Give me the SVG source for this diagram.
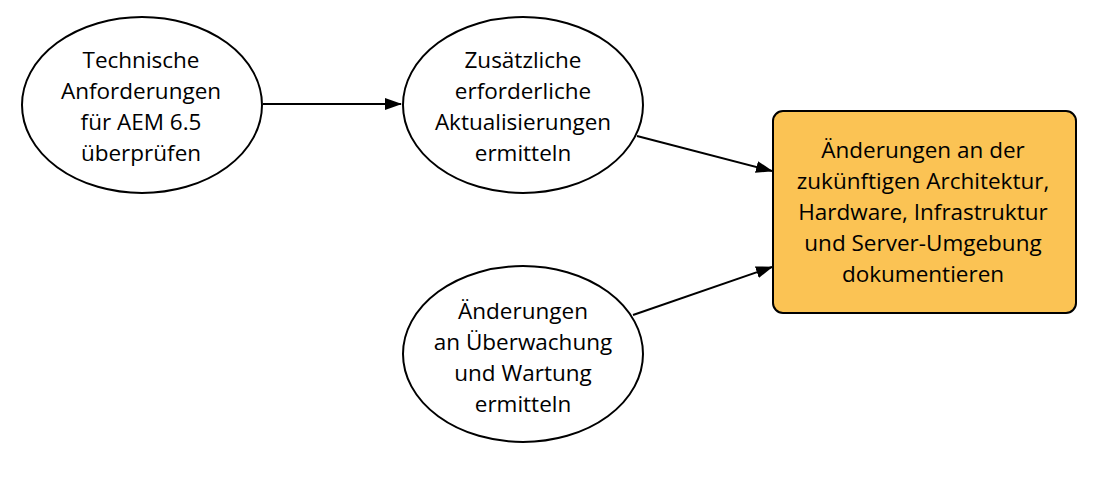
<svg xmlns="http://www.w3.org/2000/svg" width="1111" height="487" viewBox="0 0 1111 487">
<style>
.n{fill:#fff;stroke:#000;stroke-width:2}
.b{fill:#FBC354;stroke:#000;stroke-width:2}
.t{font-family:"Open Sans","Noto Sans",sans-serif;font-size:22.5px;fill:#000;text-anchor:middle}
.c{stroke:#000;stroke-width:2;fill:none;marker-end:url(#a)}
</style>
<defs>
<marker id="a" markerWidth="17" markerHeight="12" refX="16" refY="6" orient="auto" markerUnits="userSpaceOnUse">
<path d="M0,0 L17,6 L0,12 Z" fill="#000"/>
</marker>
</defs>
<rect width="1111" height="487" fill="#fff"/>
<g id="connectors">
<path class="c" d="M263,104 L401,104"/>
<path class="c" d="M637,136 L772,171"/>
<path class="c" d="M633,315 L772,267"/>
</g>
<g id="n1">
<ellipse class="n" cx="142" cy="105" rx="120" ry="88"/>
<text class="t"><tspan x="141" y="68">Technische</tspan><tspan x="141" y="99">Anforderungen</tspan><tspan x="141" y="130">für AEM 6.5</tspan><tspan x="141" y="161">überprüfen</tspan></text>
</g>
<g id="n2">
<ellipse class="n" cx="523" cy="105" rx="120" ry="88"/>
<text class="t"><tspan x="523" y="68">Zusätzliche</tspan><tspan x="523" y="99">erforderliche</tspan><tspan x="523" y="130">Aktualisierungen</tspan><tspan x="523" y="161">ermitteln</tspan></text>
</g>
<g id="n3">
<ellipse class="n" cx="523" cy="354" rx="120" ry="88"/>
<text class="t"><tspan x="523" y="319">Änderungen</tspan><tspan x="523" y="350">an Überwachung</tspan><tspan x="523" y="381">und Wartung</tspan><tspan x="523" y="412">ermitteln</tspan></text>
</g>
<g id="n4">
<rect class="b" x="773" y="111" width="303" height="202" rx="10"/>
<text class="t"><tspan x="923" y="158">Änderungen an der</tspan><tspan x="923" y="189">zukünftigen Architektur,</tspan><tspan x="923" y="220">Hardware, Infrastruktur</tspan><tspan x="923" y="251">und Server-Umgebung</tspan><tspan x="923" y="282">dokumentieren</tspan></text>
</g>
</svg>
